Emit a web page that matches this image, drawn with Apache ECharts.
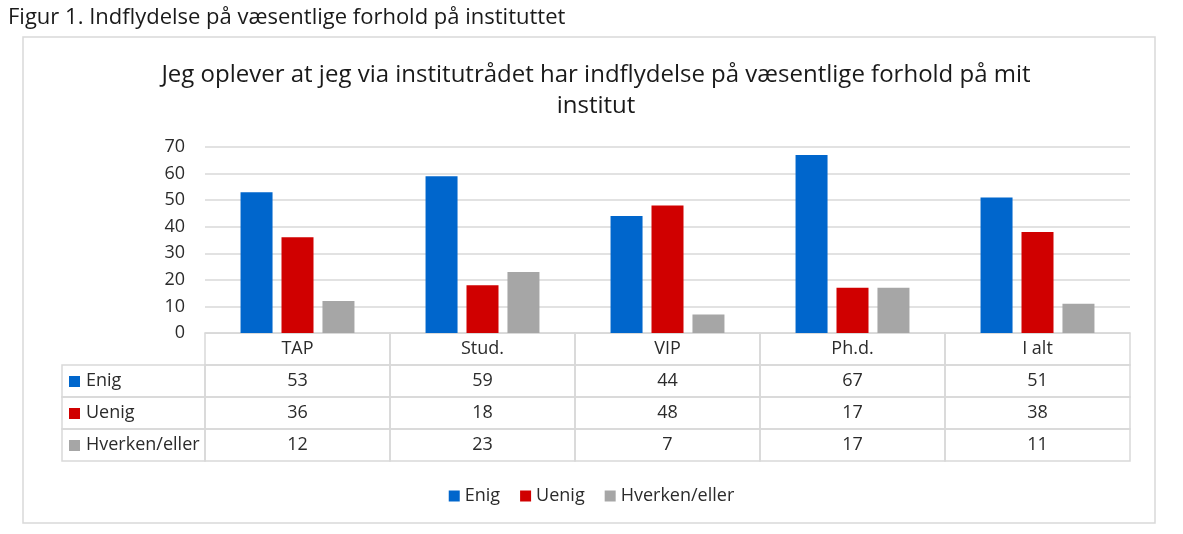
<!DOCTYPE html>
<html>
<head>
<meta charset="utf-8">
<script src="https://cdn.jsdelivr.net/npm/echarts@6/dist/echarts.min.js"></script>
<style>
  html, body { margin: 0; padding: 0; background: #fff; }
  #chart { width: 1183px; height: 534px; }
</style>
</head>
<body>
<div id="chart"></div>
<script>
// data
const categories = ['TAP', 'Stud.', 'VIP', 'Ph.d.', 'I alt'];
const enig = [53, 59, 44, 67, 51];
const uenig = [36, 18, 48, 17, 38];
const hverken = [12, 23, 7, 17, 11];
const seriesNames = ['Enig', 'Uenig', 'Hverken/eller'];
const colors = ['#0066cc', '#d00000', '#a6a6a6'];

const font = '"Open Sans", "Noto Sans", sans-serif';
const gridColor = '#d9d9d9';
const textColor = '#2b2b2b';

// table cells: row 0 = header with category names, rows 1..3 = values
const rows = [enig, uenig, hverken];
const tableData = [];
categories.forEach((c, i) => {
  tableData.push([i, 0, c]);
  rows.forEach((r, j) => tableData.push([i, j + 1, String(r[i])]));
});

const labelColWidth = 143;

function renderCell(params, api) {
  const c = api.value(0);
  const r = api.value(1);
  const text = tableData[params.dataIndex][2];
  const p = api.coord([c, r]);
  const size = api.size([1, 1]);
  const x = p[0] - size[0] / 2;
  const y = p[1] - size[1] / 2;
  const children = [{
    type: 'rect',
    shape: { x: x, y: y, width: size[0], height: size[1] },
    style: { fill: 'none', stroke: gridColor, lineWidth: 1.5 }
  }, {
    type: 'text',
    style: {
      x: p[0], y: p[1], text: text, align: 'center', verticalAlign: 'middle',
      fill: textColor, font: '18px ' + font
    }
  }];
  if (c === 0 && r > 0) {
    const lx = x - labelColWidth;
    children.push({
      type: 'rect',
      shape: { x: lx, y: y, width: labelColWidth, height: size[1] },
      style: { fill: 'none', stroke: gridColor, lineWidth: 1.5 }
    }, {
      type: 'rect',
      shape: { x: lx + 7, y: p[1] - 5, width: 11, height: 11 },
      style: { fill: colors[r - 1] }
    }, {
      type: 'text',
      style: {
        x: lx + 24, y: p[1], text: seriesNames[r - 1], align: 'left', verticalAlign: 'middle',
        fill: textColor, font: '18px ' + font
      }
    });
  }
  return { type: 'group', children: children };
}

const chart = echarts.init(document.getElementById('chart'));
chart.setOption({
  animation: false,
  textStyle: { fontFamily: font },
  title: [{
    text: 'Figur 1. Indflydelse på væsentlige forhold på instituttet',
    left: 3, top: 2,
    textStyle: { fontSize: 22, fontWeight: 'normal', color: '#1a1a1a' }
  }, {
    text: 'Jeg oplever at jeg via institutrådet har indflydelse på væsentlige forhold på mit\ninstitut',
    left: 591, top: 55, textAlign: 'center',
    textStyle: { fontSize: 24, fontWeight: 'normal', color: '#1a1a1a', lineHeight: 31 }
  }],
  legend: {
    data: seriesNames,
    top: 482, left: 'center',
    icon: 'rect', itemWidth: 11, itemHeight: 11, itemGap: 20,
    textStyle: { fontSize: 18, color: textColor, padding: [0, 0, 0, 0] }
  },
  graphic: [{
    type: 'rect',
    shape: { x: 23, y: 37, width: 1132, height: 486 },
    style: { fill: 'none', stroke: gridColor, lineWidth: 1.5 },
    silent: true
  }],
  grid: [
    { left: 205, right: 53, top: 147, height: 186 },
    { left: 205, right: 53, top: 333, height: 128 }
  ],
  xAxis: [{
    type: 'category', data: categories, gridIndex: 0,
    axisLine: { lineStyle: { color: gridColor } },
    axisTick: { show: false }, axisLabel: { show: false }
  }, {
    type: 'category', data: categories, gridIndex: 1, show: false
  }],
  yAxis: [{
    type: 'value', gridIndex: 0, min: 0, max: 70, interval: 10,
    axisLine: { show: false }, axisTick: { show: false },
    axisLabel: { fontSize: 18, color: textColor, margin: 20 },
    splitLine: { lineStyle: { color: gridColor, width: 1.5 } }
  }, {
    type: 'category', data: ['', 'Enig', 'Uenig', 'Hverken/eller'], gridIndex: 1,
    inverse: true, show: false
  }],
  series: [
    { name: seriesNames[0], type: 'bar', data: enig, barWidth: 32, barGap: '28%', itemStyle: { color: colors[0] } },
    { name: seriesNames[1], type: 'bar', data: uenig, barWidth: 32, barGap: '28%', itemStyle: { color: colors[1] } },
    { name: seriesNames[2], type: 'bar', data: hverken, barWidth: 32, barGap: '28%', itemStyle: { color: colors[2] } },
    {
      type: 'custom', xAxisIndex: 1, yAxisIndex: 1,
      data: tableData.map(d => [d[0], d[1]]),
      encode: { x: 0, y: 1 },
      renderItem: renderCell,
      silent: true
    }
  ]
});
</script>
</body>
</html>
